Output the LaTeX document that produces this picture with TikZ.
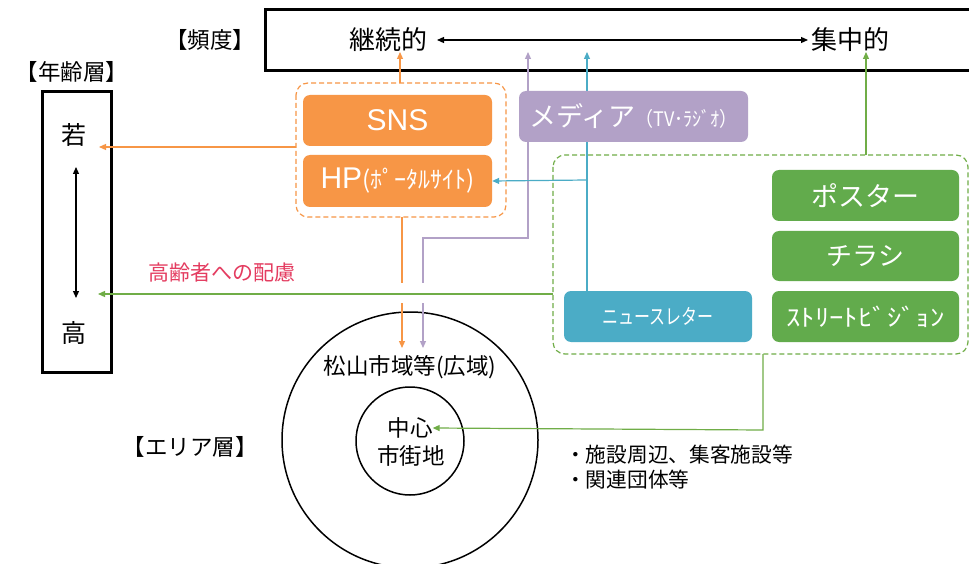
\documentclass[tikz,border=0pt]{standalone}
\usepackage{fontspec}
\setmainfont{Noto Sans CJK JP}
\newfontfamily\latinf{Liberation Sans}
\usetikzlibrary{arrows.meta,calc}
\definecolor{cOrange}{RGB}{247,150,70}
\definecolor{cPurple}{RGB}{178,161,199}
\definecolor{cTeal}{RGB}{75,172,198}
\definecolor{cGreen}{RGB}{112,173,71}
\definecolor{cGreenBox}{RGB}{98,171,76}
\definecolor{cRed}{RGB}{228,60,96}
\newcommand{\fs}[1]{\fontsize{#1}{#1}\selectfont}
\tikzset{
  lbl/.style={inner sep=0pt, text=black},
  cbox/.style={rounded corners=7pt, inner sep=0pt, text=white, draw=none},
  conn/.style={line width=1.2pt, -{Triangle[length=7pt,width=6pt]}},
  biarrow/.style={line width=1.2pt, {Triangle[length=7pt,width=6pt]}-{Triangle[length=7pt,width=6pt]}},
  grp/.style={line width=1.2pt, dash pattern=on 5pt off 3pt, rounded corners=12pt},
}
\begin{document}
\begin{tikzpicture}[x=1pt,y=-1pt]
\clip (0,0) rectangle (969,564);
\fill[white] (0,0) rectangle (969,564);

% frequency frame
\draw[line width=3pt] (265,10) rectangle (975,71);
\node[lbl] (freqlbl) at (210,40) {\fs{22.5}【頻度】};
\node[lbl] (keizoku) at (388,40) {\fs{26}継続的};
\node[lbl] (shuchu) at (850,40) {\fs{26}集中的};
\coordinate (fa) at (437,40);
\coordinate (fb) at (808,40);
\draw[biarrow] (fa) -- (fb);

% age frame
\node[lbl] (agelbl) at (72,72) {\fs{22.5}【年齢層】};
\draw[line width=3pt] (42,92) rectangle (111,372);
\node[lbl] (waka) at (74,135) {\fs{25}若};
\node[lbl] (kou) at (74,333) {\fs{25}高};
\coordinate (ageTop) at (76,167);
\coordinate (ageBot) at (76,298);
\draw[biarrow] (ageTop) -- (ageBot);

% circles
\draw[line width=1.5pt] (410,440) circle (128);
\draw[line width=1.5pt] (410,441) circle (54);
\node[lbl] (wide) at (410,367) {\fs{22.5}松山市域等(広域)};
\node[lbl] (chushin) at (410,428) {\fs{22.5}中心};
\node[lbl] (shigai) at (411,456) {\fs{22.5}市街地};
\node[lbl] (arealbl) at (190,447) {\fs{22.5}【エリア層】};

% connector coordinates
\coordinate (oTop) at (400,83);
\coordinate (oTopEnd) at (400,52);
\coordinate (oLeft) at (296,147);
\coordinate (wakaTip) at (99,147);
\coordinate (oBot) at (402,217);
\coordinate (oBotEnd) at (402,348);
\coordinate (pTop) at (528,91);
\coordinate (pTopEnd) at (528,52);
\coordinate (pBot) at (528,142);
\coordinate (pBend1) at (528,238);
\coordinate (pBend2) at (423,238);
\coordinate (pBotEnd) at (423,348);
\coordinate (tNews) at (587,291);
\coordinate (tTopEnd) at (587,52);
\coordinate (tBranch) at (587,180);
\coordinate (gTop) at (866,155);
\coordinate (gTopEnd) at (866,52);
\coordinate (gLeft) at (553,294);
\coordinate (kouTip) at (98,294);
\coordinate (gBot) at (763,354);
\coordinate (gBend) at (763,430);

% lines behind boxes
\draw[conn,cTeal] (tNews) -- (tTopEnd);
\draw[conn,cOrange] (oTop) -- (oTopEnd);
\draw[conn,cPurple] (pTop) -- (pTopEnd);
\draw[conn,cGreen] (gTop) -- (gTopEnd);
\draw[conn,cOrange] (oLeft) -- (wakaTip);
\draw[conn,cOrange] (oBot) -- (oBotEnd);
\draw[conn,cPurple] (pBot) -- (pBend1) -- (pBend2) -- (pBotEnd);
\fill[white] (395,283) rectangle (431,303);
\draw[conn,cGreen] (gLeft) -- (kouTip);
\node[lbl, text=cRed] (koureisha) at (222,273) {\fs{21}高齢者への配慮};

% groups
\draw[grp, cOrange] (296,83) rectangle (506,217);
\draw[grp, cGreen] (553,155) rectangle (968,354);

% boxes
\node[cbox, fill=cOrange, minimum width=189pt, minimum height=51pt] (sns) at (397.5,120.5) {\latinf\fs{30}SNS};
\node[cbox, fill=cOrange, minimum width=189pt, minimum height=52pt] (hp) at (397.5,181) {\latinf\fs{30}HP\fontspec{Noto Sans CJK JP}\fs{24}(ﾎﾟｰﾀﾙｻｲﾄ)};
\node[cbox, fill=cPurple, minimum width=229pt, minimum height=51pt] (media) at (633.5,116.5) {\fs{27}メディア\scalebox{0.9}[1]{\fs{20}（TV･ﾗｼﾞｵ）}};
\node[cbox, fill=cTeal, minimum width=188pt, minimum height=51pt] (news) at (658,316.5) {\scalebox{0.76}[1]{\fs{21}ニュースレター}};
\node[cbox, fill=cGreenBox, minimum width=187pt, minimum height=51pt] (poster) at (865.5,195.5) {\fs{27}ポスター};
\node[cbox, fill=cGreenBox, minimum width=187pt, minimum height=50pt] (chirashi) at (865.5,256) {\fs{26}チラシ};
\node[cbox, fill=cGreenBox, minimum width=187pt, minimum height=51pt] (street) at (865.5,316.5) {\scalebox{1.2}[1]{\fs{24}ｽﾄﾘｰﾄﾋﾞｼﾞｮﾝ}};

\draw[conn,cTeal] (tBranch) -- (hp.east);
\draw[conn,cGreen] (gBot) -- (gBend) -- (chushin.east);

% bullets
\node[lbl, anchor=west] (b1) at (565,455) {\fs{20.7}・施設周辺、集客施設等};
\node[lbl, anchor=west] (b2) at (565,480) {\fs{20.7}・関連団体等};
\end{tikzpicture}
\end{document}
